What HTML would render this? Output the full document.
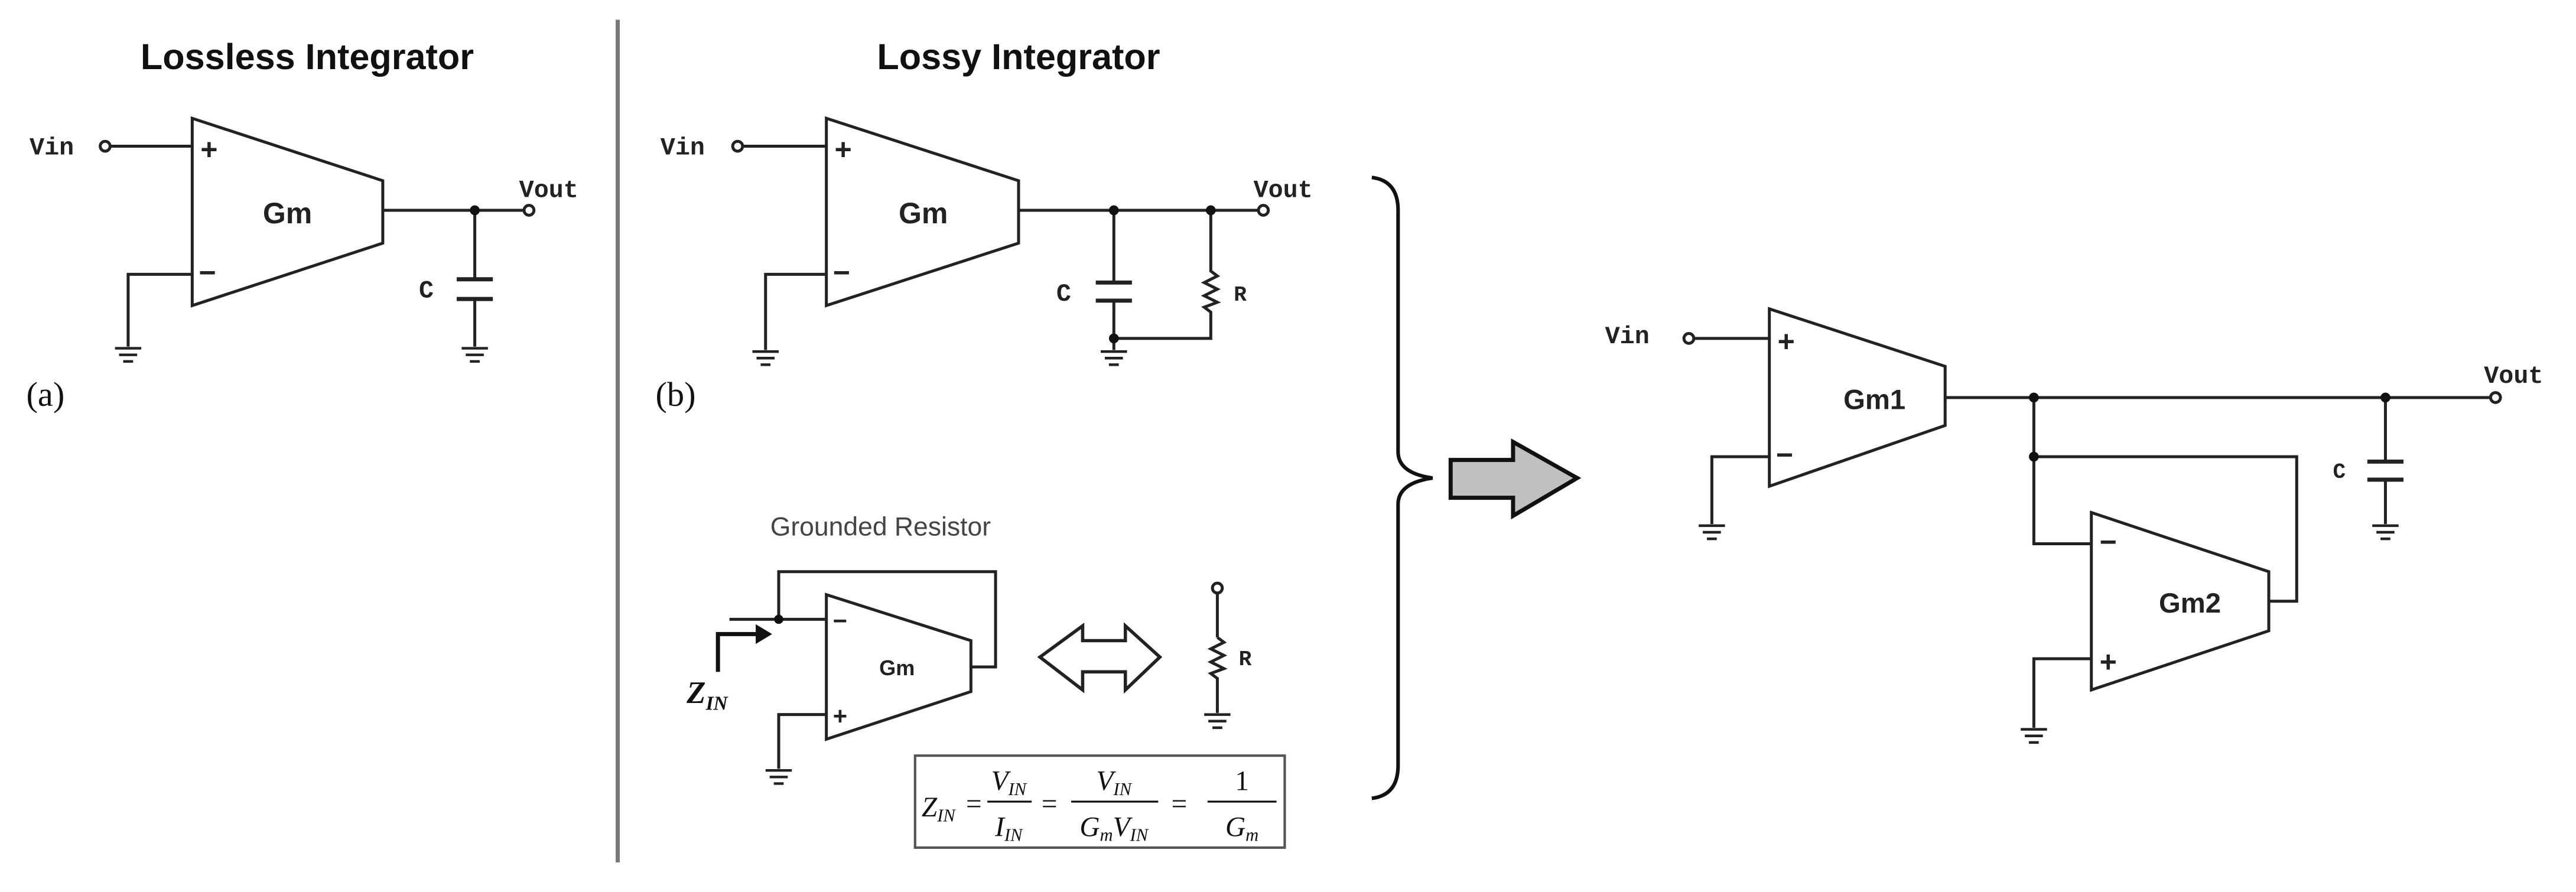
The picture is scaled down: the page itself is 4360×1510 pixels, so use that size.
<!DOCTYPE html>
<html><head><meta charset="utf-8"><style>html,body{margin:0;padding:0;background:#fff}svg{display:block}</style></head>
<body>
<svg width="4360" height="1510" viewBox="0 0 1568 543" xmlns="http://www.w3.org/2000/svg">
<rect width="1568" height="543" fill="#fff"/>
<defs>
<g id="gnd" stroke="#222" stroke-width="1.6"><line x1="-8" y1="0" x2="8" y2="0"/><line x1="-5.5" y1="4" x2="5.5" y2="4"/><line x1="-3" y1="8" x2="3" y2="8"/></g>
</defs>
<g font-family="Liberation Sans, sans-serif" font-weight="bold" font-size="22" fill="#111" text-anchor="middle">
<text x="187" y="42">Lossless Integrator</text>
<text x="620" y="42">Lossy Integrator</text>
</g>
<line x1="376" y1="12" x2="376" y2="525" stroke="#777" stroke-width="2.5"/>

<g stroke="#222" stroke-width="1.8" fill="none">
<polygon points="117,72 117,186 233,148 233,110" fill="#fff"/>
<line x1="67" y1="89" x2="117" y2="89"/><circle cx="64" cy="89" r="3" fill="#fff"/>
<polyline points="117,167 78,167 78,211"/>
<line x1="233" y1="128" x2="319" y2="128"/><circle cx="322" cy="128" r="3" fill="#fff"/>
<line x1="289" y1="128" x2="289" y2="170"/><line x1="289" y1="182" x2="289" y2="211"/>
<line x1="278" y1="170" x2="300" y2="170" stroke-width="2.5"/><line x1="278" y1="182" x2="300" y2="182" stroke-width="2.5"/>
<polygon points="503,72 503,186 620,148 620,110" fill="#fff"/>
<line x1="452" y1="89" x2="503" y2="89"/><circle cx="449" cy="89" r="3" fill="#fff"/>
<polyline points="503,167 466,167 466,213"/>
<line x1="620" y1="128" x2="766" y2="128"/><circle cx="769" cy="128" r="3" fill="#fff"/>
<line x1="678" y1="128" x2="678" y2="172"/><line x1="678" y1="183" x2="678" y2="213"/>
<line x1="667" y1="172" x2="689" y2="172" stroke-width="2.5"/><line x1="667" y1="183" x2="689" y2="183" stroke-width="2.5"/>
<polyline points="737,128 737,165 741,168 733,172 741,176 733,180 741,184 733,187 737,190 737,206 678,206"/>
<polygon points="503,362 503,450 591,421 591,390" fill="#fff"/>
<polyline points="444,377 503,377"/>
<polyline points="474,377 474,348 606,348 606,406 591,406"/>
<polyline points="503,435 474,435 474,468"/>
<line x1="741" y1="361" x2="741" y2="388"/><circle cx="741" cy="358" r="3" fill="#fff"/>
<polyline points="741,388 745,391 737,395 745,399 737,403 745,407 737,410 741,413 741,434"/>
<polygon points="633,400 659,381 659,390 685,390 685,381 706,400 685,420 685,409 659,409 659,420" stroke-width="2"/>
<rect x="557" y="460" width="225" height="56" stroke="#555" stroke-width="1.5"/>
<polygon points="1077,188 1077,296 1184,259 1184,223" fill="#fff"/>
<line x1="1031" y1="206" x2="1077" y2="206"/><circle cx="1028" cy="206" r="3" fill="#fff"/>
<polyline points="1077,278 1042,278 1042,319"/>
<line x1="1184" y1="242" x2="1516" y2="242"/><circle cx="1519" cy="242" r="3" fill="#fff"/>
<polyline points="1238,242 1238,331 1273,331"/>
<polyline points="1238,278 1398,278 1398,366 1381,366"/>
<polygon points="1273,312 1273,420 1381,384 1381,348" fill="#fff"/>
<polyline points="1273,401 1238,401 1238,443"/>
<line x1="1452" y1="242" x2="1452" y2="281"/><line x1="1452" y1="292" x2="1452" y2="319"/>
<line x1="1441" y1="281" x2="1463" y2="281" stroke-width="2.5"/><line x1="1441" y1="292" x2="1463" y2="292" stroke-width="2.5"/>
<path d="M835,108 Q851,110 851,128 L851,275 Q851,288 872,291 Q851,294 851,307 L851,466 Q851,484 835,486" stroke="#111" stroke-width="2.2"/>
</g>
<polyline points="437,409 437,386 462,386" stroke="#111" stroke-width="2.5" fill="none"/>
<polygon points="460,380 470,386 460,392" fill="#111"/>
<polygon points="883,280 921,280 921,269 960,291 921,314 921,303 883,303" fill="#c0c0c0" stroke="#111" stroke-width="2.5"/>
<g fill="#111">
<circle cx="289" cy="128" r="3"/><circle cx="678" cy="128" r="3"/><circle cx="737" cy="128" r="3"/><circle cx="678" cy="206" r="3"/>
<circle cx="474" cy="377" r="2.8"/><circle cx="1238" cy="242" r="3"/><circle cx="1452" cy="242" r="3"/><circle cx="1238" cy="278" r="3"/>
</g>
<use href="#gnd" x="78" y="212"/><use href="#gnd" x="289" y="212"/><use href="#gnd" x="466" y="214"/><use href="#gnd" x="678" y="214"/>
<use href="#gnd" x="474" y="469"/><use href="#gnd" x="741" y="435"/><use href="#gnd" x="1042" y="320"/><use href="#gnd" x="1452" y="320"/><use href="#gnd" x="1238" y="444"/>
<g font-family="Liberation Mono, monospace" font-weight="bold" font-size="15" fill="#222">
<text x="18" y="94">Vin</text><text x="316" y="120">Vout</text><text x="255" y="181">C</text>
<text x="402" y="94">Vin</text><text x="763" y="120">Vout</text><text x="643" y="183">C</text><text x="751" y="183" font-size="13">R</text>
<text x="977" y="209">Vin</text><text x="1512" y="233">Vout</text><text x="1420" y="291" font-size="13">C</text>
<text x="754" y="405" font-size="13">R</text>
</g>
<g font-family="Liberation Sans, sans-serif" font-weight="bold" fill="#222">
<text x="122" y="97" font-size="18">+</text><text x="121" y="172" font-size="18">−</text>
<text x="508" y="97" font-size="18">+</text><text x="507" y="172" font-size="18">−</text>
<text x="1082" y="214" font-size="18">+</text><text x="1081" y="283" font-size="18">−</text>
<text x="1278" y="336" font-size="18">−</text><text x="1278" y="409" font-size="18">+</text>
<text x="507" y="383" font-size="15">−</text><text x="507" y="441" font-size="15">+</text>
<text x="175" y="136" font-size="18" text-anchor="middle">Gm</text>
<text x="562" y="136" font-size="18" text-anchor="middle">Gm</text>
<text x="1141" y="249" font-size="17" text-anchor="middle">Gm1</text>
<text x="1333" y="373" font-size="17" text-anchor="middle">Gm2</text>
<text x="546" y="411" font-size="13" text-anchor="middle">Gm</text>
</g>
<g font-family="Liberation Serif, serif" font-size="21" fill="#111">
<text x="16" y="247">(a)</text><text x="399" y="247">(b)</text>
</g>
<text x="536" y="326" text-anchor="middle" font-family="Liberation Sans, sans-serif" font-size="16" fill="#444">Grounded Resistor</text>
<text x="418" y="428" font-family="Liberation Serif, serif" font-style="italic" font-weight="bold" font-size="19" fill="#111">Z<tspan font-size="12" dy="4">IN</tspan></text>
<g font-family="Liberation Serif, serif" font-style="italic" font-size="17" fill="#111">
<text x="561" y="497">Z<tspan font-size="11" dy="3">IN</tspan></text>
<text x="588" y="495" font-style="normal">=</text>
<text x="614" y="481" text-anchor="middle">V<tspan font-size="11" dy="3">IN</tspan></text>
<line x1="601" y1="488" x2="628" y2="488" stroke="#111" stroke-width="1.2"/>
<text x="614" y="509" text-anchor="middle">I<tspan font-size="11" dy="3">IN</tspan></text>
<text x="634" y="495" font-style="normal">=</text>
<text x="678" y="481" text-anchor="middle">V<tspan font-size="11" dy="3">IN</tspan></text>
<line x1="652" y1="488" x2="705" y2="488" stroke="#111" stroke-width="1.2"/>
<text x="678" y="509" text-anchor="middle">G<tspan font-size="11" dy="3">m</tspan><tspan dy="-3">V</tspan><tspan font-size="11" dy="3">IN</tspan></text>
<text x="713" y="495" font-style="normal">=</text>
<text x="756" y="481" text-anchor="middle" font-style="normal">1</text>
<line x1="735" y1="488" x2="777" y2="488" stroke="#111" stroke-width="1.2"/>
<text x="756" y="509" text-anchor="middle">G<tspan font-size="11" dy="3">m</tspan></text>
</g>
</svg>
</body></html>
